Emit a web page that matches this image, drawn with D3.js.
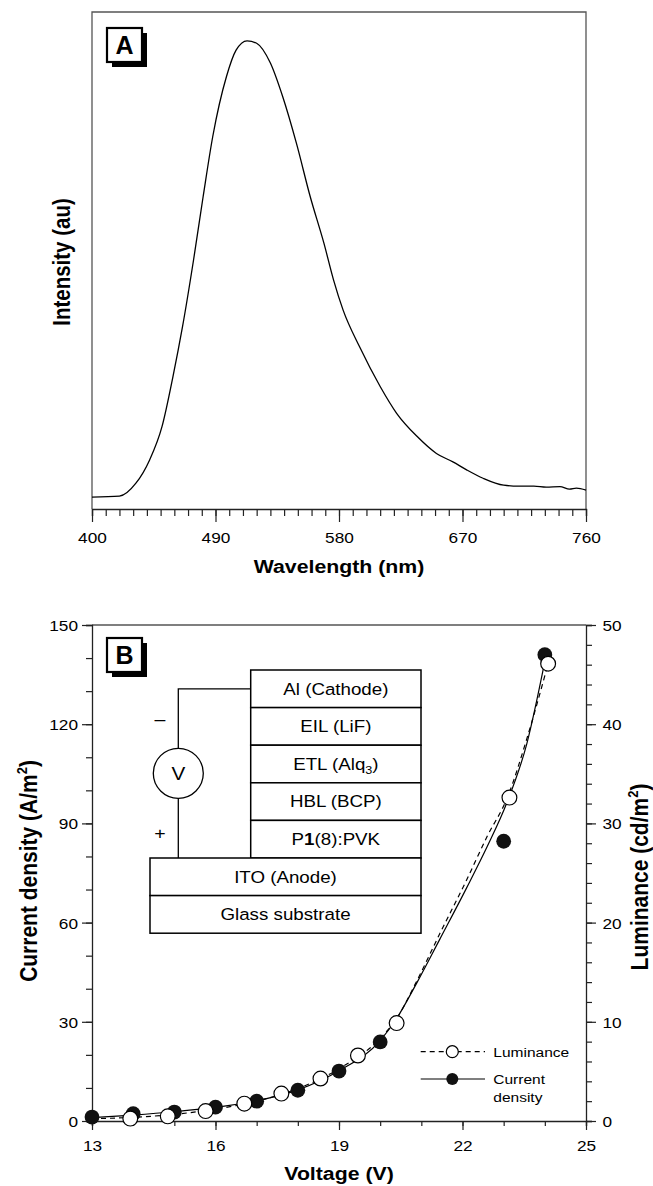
<!DOCTYPE html>
<html><head><meta charset="utf-8">
<script src="https://cdn.jsdelivr.net/npm/d3@7"></script>
<style>
body{margin:0;background:#fff}
svg{display:block}
text{font-family:"Liberation Sans",Arial,Helvetica,sans-serif;fill:#000}
</style>
</head><body>
<svg id="c" width="653" height="1186"></svg>
<script>
// ---------- Panel A data ----------
const waveNm = [400,420,432,442,451,459,466,474,481,488,498,505,513,520,530,539,549,559,569,576,583,595,610,622,637,651,663,673,685,700,711,722,731,741,748,753,760];
const intensity = [2.4,2.6,5.2,9.9,16.6,26.7,36.8,50.2,63.0,75.1,87.2,92.5,94.4,93.9,89.9,83.1,73.7,63.0,53.6,46.2,40.1,32.7,24.7,19.3,14.6,11.2,9.5,7.9,6.2,4.8,4.6,4.6,4.4,4.5,4.0,4.2,3.8];
const waveTicks = [400,490,580,670,760];

// ---------- Panel B data ----------
const curV = [13,14,15,16,17,18,19,20,23,24];
const curJ = [1.2,2.2,2.7,4.2,6.0,9.3,15.1,23.9,84.6,141];
const lumV = [13.93,14.84,15.76,16.7,17.6,18.55,19.46,20.4,23.14,24.08];
const lumL = [0.24,0.47,1.0,1.75,2.76,4.28,6.6,9.87,32.6,46.1];
// fitted curves
const fitCurV = [13,14,15,16,17,18,19,20,20.4,20.9,21.45,22.1,22.6,23.07,23.56,24.0];
const fitCurJ = [1.0,1.8,2.8,4.1,6.1,9.4,15.2,24.3,31,42,55,70.5,83,96,114,139];
const fitLumV = [13,14,15,16,17,18,19,20,20.4,20.9,21.45,22.1,22.6,23.1,23.56,24.08];
const fitLumL = [0.23,0.37,0.67,1.2,2.0,3.27,5.27,8.33,10.33,14.2,18.9,24.3,28.7,32.7,38.5,46.1];
const voltTicks = [13,16,19,22,25];
const curTicks = [0,30,60,90,120,150];
const lumTicks = [0,10,20,30,40,50];
const stackLayers = ["Al (Cathode)","EIL (LiF)","ETL (Alq3)","HBL (BCP)","P1(8):PVK"];
const baseLayers = ["ITO (Anode)","Glass substrate"];

const SX = 1.15;
const svg = d3.select('#c');

function txt(parent, x, y, size, opt = {}) {
  const tr = opt.rot ? `translate(${x},${y}) rotate(${opt.rot}) scale(1,${SX})`
                     : `translate(${x},${y}) scale(${opt.sx || SX},1)`;
  return parent.append('text')
    .attr('transform', tr)
    .attr('font-size', size)
    .attr('font-weight', opt.bold ? 'bold' : 'normal')
    .attr('text-anchor', opt.anchor || 'middle');
}

function styleAxis(g) {
  g.selectAll('path.domain').attr('stroke', '#222').attr('stroke-width', 1.3);
  g.selectAll('.tick line').attr('stroke', '#222').attr('stroke-width', 1.2);
}

function labelBox(x, y, w, h, letter) {
  svg.append('rect').attr('x', x + 5).attr('y', y + 5).attr('width', w).attr('height', h).attr('fill', '#000');
  svg.append('rect').attr('x', x).attr('y', y).attr('width', w).attr('height', h)
    .attr('fill', '#fff').attr('stroke', '#000').attr('stroke-width', 2.2);
  txt(svg, x + w / 2, y + h / 2 + 9, 25, {bold: true, sx: 1}).text(letter);
}

// ================= Panel A =================
const xA = d3.scaleLinear().domain([400, 760]).range([92, 586]);
const yA = d3.scaleLinear().domain([0, 100]).range([509, 13]);

svg.append('path').attr('d', `M${xA(400)},${yA(0)}V${yA(100) - 1}H${xA(760)}V${yA(0)}`)
  .attr('fill', 'none').attr('stroke', '#555').attr('stroke-width', 1.3);

const gAminor = svg.append('g').attr('transform', `translate(0,${yA(0)})`)
  .call(d3.axisBottom(xA).tickValues(d3.range(400, 761, 10)).tickSize(7).tickFormat(''));
styleAxis(gAminor);
const gAmajor = svg.append('g').attr('transform', `translate(0,${yA(0)})`)
  .call(d3.axisBottom(xA).tickValues(waveTicks).tickSize(13).tickFormat(d3.format('d')));
styleAxis(gAmajor);
gAmajor.select('path.domain').remove();
gAmajor.selectAll('.tick text').attr('y', 23.5).attr('dy', '0.71em')
  .attr('font-size', 15).attr('font-family', null).attr('fill', '#000')
  .attr('transform', `scale(${SX},1)`);

const lineA = d3.line().x((d, i) => xA(waveNm[i])).y(d => yA(d)).curve(d3.curveMonotoneX);
svg.append('path').attr('d', lineA(intensity)).attr('fill', 'none').attr('stroke', '#000').attr('stroke-width', 1.3);

txt(svg, 339, 573, 18.5, {bold: true}).text('Wavelength (nm)');
txt(svg, 70, 262, 20.5, {bold: true, rot: -90}).text('Intensity (au)');
labelBox(107, 28, 35, 34, 'A');

// ================= Panel B =================
const xB = d3.scaleLinear().domain([13, 25]).range([92, 586]);
const yJ = d3.scaleLinear().domain([0, 150]).range([1121, 625]);
const yL = d3.scaleLinear().domain([0, 50]).range([1121, 625]);

svg.append('path').attr('d', `M${xB(13)},${yJ(150)}H${xB(25)}`)
  .attr('stroke', '#555').attr('stroke-width', 1.3).attr('fill', 'none');

// left axis
const gLmin = svg.append('g').attr('transform', `translate(${xB(13)},0)`)
  .call(d3.axisLeft(yJ).tickValues(d3.range(0, 151, 10)).tickSize(6).tickFormat(''));
styleAxis(gLmin);
const gLmaj = svg.append('g').attr('transform', `translate(${xB(13)},0)`)
  .call(d3.axisLeft(yJ).tickValues(curTicks).tickSize(10).tickFormat(d3.format('d')));
styleAxis(gLmaj); gLmaj.select('path.domain').remove();
gLmaj.selectAll('.tick text').attr('x', -14 / SX).attr('dy', '0.36em')
  .attr('font-size', 15).attr('fill', '#000').attr('transform', `scale(${SX},1)`);

// right axis
const gRmin = svg.append('g').attr('transform', `translate(${xB(25)},0)`)
  .call(d3.axisRight(yL).tickValues(d3.range(0, 51, 2)).tickSize(6).tickFormat(''));
styleAxis(gRmin);
const gRmaj = svg.append('g').attr('transform', `translate(${xB(25)},0)`)
  .call(d3.axisRight(yL).tickValues(lumTicks).tickSize(10).tickFormat(d3.format('d')));
styleAxis(gRmaj); gRmaj.select('path.domain').remove();
gRmaj.selectAll('.tick text').attr('x', 16.5 / SX).attr('dy', '0.36em')
  .attr('font-size', 15).attr('fill', '#000').attr('transform', `scale(${SX},1)`);

// bottom axis
const gBmin = svg.append('g').attr('transform', `translate(0,${yJ(0)})`)
  .call(d3.axisBottom(xB).tickValues(d3.range(13, 25.5, 1)).tickSize(5).tickFormat(''));
styleAxis(gBmin);
const gBmaj = svg.append('g').attr('transform', `translate(0,${yJ(0)})`)
  .call(d3.axisBottom(xB).tickValues(voltTicks).tickSize(9).tickFormat(d3.format('d')));
styleAxis(gBmaj); gBmaj.select('path.domain').remove();
gBmaj.selectAll('.tick text').attr('y', 19.5).attr('dy', '0.71em')
  .attr('font-size', 15).attr('fill', '#000').attr('transform', `scale(${SX},1)`);

// titles
txt(svg, 339, 1180, 18.5, {bold: true}).text('Voltage (V)');
const tCur = txt(svg, 37, 871, 21, {bold: true, rot: -90});
tCur.append('tspan').text('Current density (A/m');
tCur.append('tspan').attr('font-size', 13).attr('dy', -8.5).text('2');
tCur.append('tspan').attr('dy', 8.5).text(')');
const tLum = txt(svg, 648, 877, 21, {bold: true, rot: -90});
tLum.append('tspan').text('Luminance (cd/m');
tLum.append('tspan').attr('font-size', 13).attr('dy', -8.5).text('2');
tLum.append('tspan').attr('dy', 8.5).text(')');

// inset device diagram
const ins = svg.append('g');
const stackX0 = 250.7, stackX1 = 421, baseX0 = 150, rowH = 37.6, top0 = 670;
stackLayers.forEach((name, i) => {
  const y0 = top0 + i * rowH;
  ins.append('rect').attr('x', stackX0).attr('y', y0).attr('width', stackX1 - stackX0).attr('height', rowH)
    .attr('fill', '#fff').attr('stroke', '#000').attr('stroke-width', 1.5);
  const t = txt(ins, (stackX0 + stackX1) / 2, y0 + rowH / 2 + 5.8, 16.3);
  if (name === 'ETL (Alq3)') {
    t.append('tspan').text('ETL (Alq');
    t.append('tspan').attr('font-size', 11).attr('dy', 4).text('3');
    t.append('tspan').attr('dy', -4).text(')');
  } else if (name === 'P1(8):PVK') {
    t.append('tspan').text('P');
    t.append('tspan').attr('font-weight', 'bold').text('1');
    t.append('tspan').text('(8):PVK');
  } else t.text(name);
});
baseLayers.forEach((name, i) => {
  const y0 = top0 + stackLayers.length * rowH + i * rowH;
  ins.append('rect').attr('x', baseX0).attr('y', y0).attr('width', stackX1 - baseX0).attr('height', rowH)
    .attr('fill', '#fff').attr('stroke', '#000').attr('stroke-width', 1.5);
  txt(ins, (baseX0 + stackX1) / 2, y0 + rowH / 2 + 5.8, 16.3).text(name);
});
const wx = 178.3, cy = 773.3, cr = 25;
ins.append('path').attr('d', `M${stackX0},${top0 + rowH / 2}H${wx}V${cy - cr}M${wx},${cy + cr}V${top0 + 5 * rowH}`)
  .attr('fill', 'none').attr('stroke', '#000').attr('stroke-width', 1.3);
ins.append('circle').attr('cx', wx).attr('cy', cy).attr('r', cr).attr('fill', '#fff').attr('stroke', '#000').attr('stroke-width', 1.3);
txt(ins, wx, cy + 6.5, 18).text('V');
txt(ins, 160, 725, 17).text('\u2013');
txt(ins, 160, 839, 17).text('+');

// curves
const lineCur = d3.line().x((d, i) => xB(fitCurV[i])).y(d => yJ(d)).curve(d3.curveMonotoneX);
svg.append('path').attr('d', lineCur(fitCurJ)).attr('fill', 'none').attr('stroke', '#000').attr('stroke-width', 1.2);
const lineLum = d3.line().x((d, i) => xB(fitLumV[i])).y(d => yL(d)).curve(d3.curveMonotoneX);
svg.append('path').attr('d', lineLum(fitLumL)).attr('fill', 'none').attr('stroke', '#000')
  .attr('stroke-width', 1.2).attr('stroke-dasharray', '5,4');

// markers
svg.append('g').selectAll('circle').data(curJ).join('circle')
  .attr('cx', (d, i) => xB(curV[i])).attr('cy', d => yJ(d)).attr('r', 7.4).attr('fill', '#111');
svg.append('g').selectAll('circle').data(lumL).join('circle')
  .attr('cx', (d, i) => xB(lumV[i])).attr('cy', d => yL(d)).attr('r', 7.4)
  .attr('fill', '#fff').attr('stroke', '#000').attr('stroke-width', 1.2);

// legend
const lg = svg.append('g');
lg.append('line').attr('x1', 420.7).attr('x2', 485).attr('y1', 1051.7).attr('y2', 1051.7)
  .attr('stroke', '#000').attr('stroke-width', 1.2).attr('stroke-dasharray', '5,4');
lg.append('circle').attr('cx', 452.3).attr('cy', 1051.7).attr('r', 6).attr('fill', '#fff').attr('stroke', '#000').attr('stroke-width', 1.2);
txt(lg, 493.3, 1056.6, 13.5, {anchor: 'start'}).text('Luminance');
lg.append('line').attr('x1', 420.7).attr('x2', 485).attr('y1', 1079).attr('y2', 1079)
  .attr('stroke', '#000').attr('stroke-width', 1.2);
lg.append('circle').attr('cx', 452.3).attr('cy', 1079).attr('r', 6).attr('fill', '#111');
txt(lg, 493.3, 1083.9, 13.5, {anchor: 'start'}).text('Current');
txt(lg, 493.3, 1101.6, 13.5, {anchor: 'start'}).text('density');

labelBox(107, 638, 35, 34, 'B');
</script>
</body></html>
